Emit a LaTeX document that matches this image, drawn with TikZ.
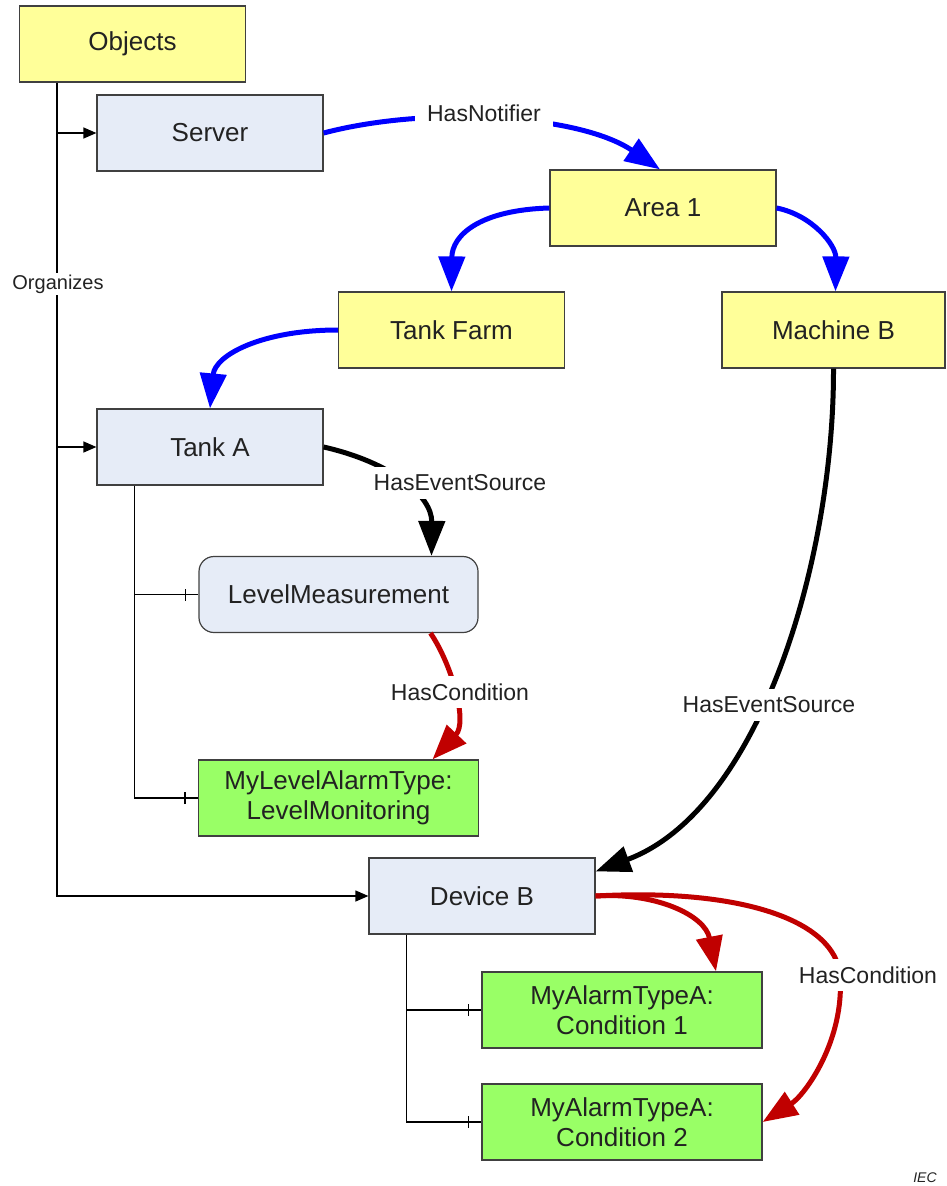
\documentclass[tikz,border=0pt]{standalone}
\usepackage{fontspec}
\setmainfont{Liberation Sans}
\usetikzlibrary{arrows.meta,decorations.markings}
\definecolor{objyellow}{HTML}{FFFF99}
\definecolor{objblue}{HTML}{E6ECF7}
\definecolor{objgreen}{HTML}{99FF66}
\definecolor{refblue}{HTML}{0000FF}
\definecolor{refred}{HTML}{C00000}
\definecolor{boxline}{HTML}{404040}
\definecolor{txt}{HTML}{222222}

\begin{document}
\begin{tikzpicture}[x=1pt,y=-1pt,
  box/.style={draw=boxline, line width=1.2pt, minimum width=226pt, minimum height=76pt,
    inner sep=0pt, align=center, text=txt, font=\fontsize{26}{30}\selectfont},
  folder/.style={box, fill=objyellow},
  object/.style={box, fill=objblue},
  cond/.style={box, minimum width=280pt, fill=objgreen},
  ref/.style={line width=5pt, -{Triangle[length=35pt,width=26pt]}},
  notify/.style={ref, color=refblue},
  evsrc/.style={ref, color=black},
  hascond/.style={ref, color=refred},
  lbl/.style={fill=white, inner xsep=12pt, inner ysep=8pt, text=txt, font=\fontsize{23}{26}\selectfont},
  tree/.style={draw=black, line width=1.2pt},
  treearrow/.style={tree, -{Triangle[length=13pt,width=11pt]}},
  ticked/.style={tree, postaction={decorate, decoration={markings,
    mark=at position -13pt with {\draw[black, line width=1.2pt] (0,-6pt) -- (0,6pt);}}}}
]
\useasboundingbox (0,0) rectangle (946,1186);

% nodes
\node[folder] (objects) at (132.5,44) {Objects};
\node[object] (server) at (210,133) {Server};
\node[folder] (area) at (663,208) {Area 1};
\node[folder] (farm) at (451.5,330) {Tank Farm};
\node[folder, minimum width=223pt] (machine) at (833.5,330) {Machine B};
\node[object] (tanka) at (210,447) {Tank A};
\node[object, minimum width=279pt, rounded corners=15pt] (lm) at (338.5,594.5) {LevelMeasurement};
\node[cond] (mla) at (338.5,798) {MyLevelAlarmType:\\LevelMonitoring};
\node[object] (dev) at (482,896) {Device B};
\node[cond] (c1) at (622,1010) {MyAlarmTypeA:\\Condition 1};
\node[cond] (c2) at (622,1122) {MyAlarmTypeA:\\Condition 2};

% Organizes tree
\coordinate (trunk) at ([xshift=38pt]objects.south west);
\draw[treearrow] (trunk) |- (dev.west);
\draw[treearrow] (trunk |- server.west) -- (server.west);
\draw[treearrow] (trunk |- tanka.west) -- (tanka.west);
\node[fill=white, inner sep=2pt, text=txt, font=\fontsize{20}{24}\selectfont] (org) at (58,284) {Organizes};

% components of Tank A
\coordinate (trunkA) at ([xshift=38pt]tanka.south west);
\draw[ticked] (trunkA) |- (mla.west);
\draw[ticked] (trunkA |- lm.west) -- (lm.west);

% components of Device B
\coordinate (trunkD) at ([xshift=38pt]dev.south west);
\draw[ticked] (trunkD) |- (c2.west);
\draw[ticked] (trunkD |- c1.west) -- (c1.west);

% notifier references
\draw[notify] (server.east) .. controls (430,105) and (580,115) .. ([xshift=-3pt]area.north);
\draw[notify] (area.west) .. controls (480,210) and (452,235) .. (farm.north);
\draw[notify] (area.east) .. controls (812,215) and (836,245) .. ([xshift=2pt]machine.north);
\draw[notify] (farm.west) .. controls (262,330) and (215,355) .. (tanka.north);

% event sources
\draw[evsrc] (tanka.east) .. controls (390,462) and (432,495) .. ([xshift=93pt]lm.north);
\draw[evsrc] (machine.south) .. controls (834,560) and (760,810) .. ([yshift=-14pt]dev.north east);

% conditions
\draw[hascond] ([xshift=92pt]lm.south) .. controls (452,665) and (468,722) .. ([xshift=94pt]mla.north);
\draw[hascond] (dev.east) .. controls (655,892) and (705,915) .. ([xshift=94pt]c1.north);
\draw[hascond] (dev.east) .. controls (740,888) and (835,920) .. (840,975)
  .. controls (845,1040) and (805,1095) .. (c2.east);

% reference labels
\node[lbl] (l1) at (484,113) {HasNotifier};
\node[lbl] (l2) at (460,483) {HasEventSource};
\node[lbl] (l3) at (460,692) {HasCondition};
\node[lbl] (l4) at (769,705) {HasEventSource};
\node[lbl] (l5) at (868,975) {HasCondition};

\node[text=txt, font=\fontsize{14}{16}\selectfont\itshape] (iec) at (925,1178) {IEC};
\end{tikzpicture}
\end{document}
